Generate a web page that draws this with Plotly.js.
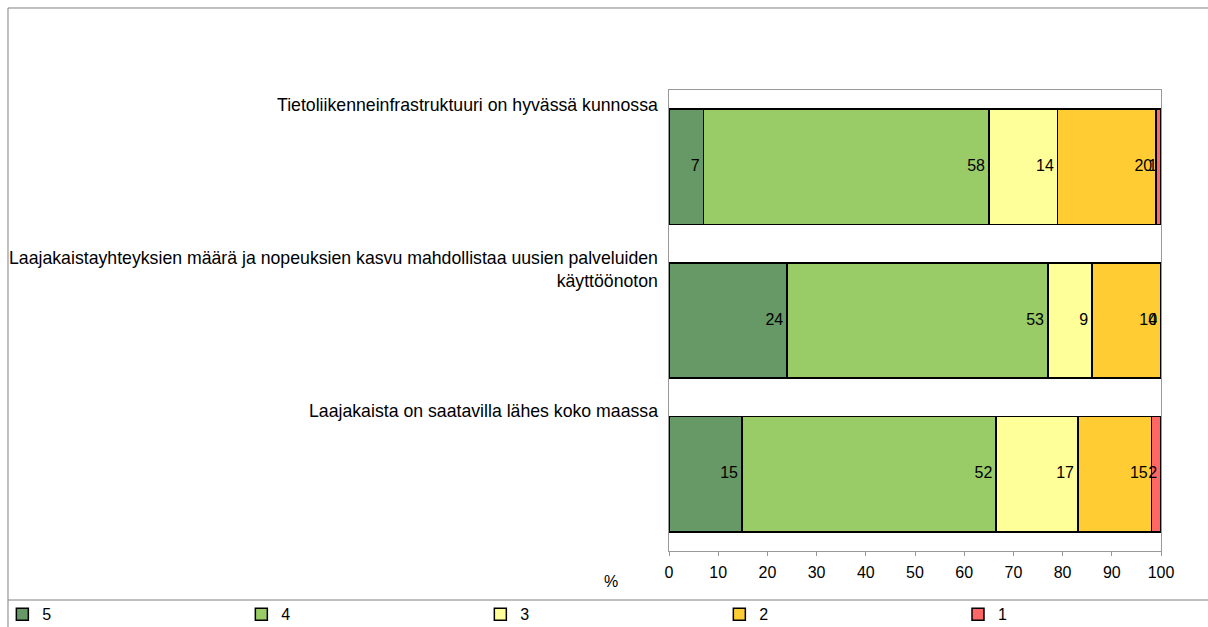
<!DOCTYPE html>
<html>
<head>
<meta charset="utf-8">
<script src="https://cdn.plot.ly/plotly-3.0.1.min.js"></script>
<style>
html,body{margin:0;padding:0;background:#fff;}
#chart{width:1208px;height:627px;}
</style>
</head>
<body>
<div id="chart"></div>
<script>
// ---- data ----
const categories = [
  "Tietoliikenneinfrastruktuuri on hyvässä kunnossa",
  "Laajakaistayhteyksien määrä ja nopeuksien kasvu mahdollistaa uusien palveluiden<br>käyttöönoton",
  "Laajakaista on saatavilla lähes koko maassa"
];
const seriesNames = ["5", "4", "3", "2", "1"];
const s5 = [7, 24, 14.8];
const s4 = [58, 53, 51.7];
const s3 = [14, 9, 16.6];
const s2 = [20, 14, 15.0];
const s1 = [1, 0, 1.9];
const xTicks = [0, 10, 20, 30, 40, 50, 60, 70, 80, 90, 100];
const axisTitle = "%";

// ---- styling ----
const colors = ["#669966", "#99CC66", "#FFFF99", "#FFCC33", "#FF6666"];
const FONT = "Liberation Sans, Arial, sans-serif";
const series = [s5, s4, s3, s2, s1];

const traces = [];
series.forEach((vals, i) => {
  traces.push({
    type: "bar",
    orientation: "h",
    name: seriesNames[i],
    y: categories,
    x: vals,
    legend: i < 4 ? "legend" : "legend2",
    marker: {color: colors[i], line: {color: "#000", width: 1.5}},
    hoverinfo: "skip"
  });
});

// value labels at the end of each segment (cumulative positions from data)
const cum = categories.map(() => 0);
series.forEach((vals, i) => {
  const xs = vals.map((v, k) => { cum[k] += v; return cum[k]; });
  traces.push({
    type: "scatter",
    mode: "markers+text",
    x: xs,
    y: categories,
    marker: {size: 4.6, opacity: 0},
    text: vals.map(v => Math.round(v).toString()),
    textposition: "middle left",
    textfont: {family: FONT, size: 16, color: "#000"},
    showlegend: false,
    hoverinfo: "skip",
    cliponaxis: false
  });
});

const catShift = [62, 51, 63];
const annotations = categories.map((c, i) => ({
  text: c, xref: "paper", x: 0, xanchor: "right", xshift: -9,
  yref: "y", y: c, yanchor: "middle", yshift: catShift[i],
  align: "right", showarrow: false,
  font: {family: FONT, size: 17.7, color: "#000"}
}));
annotations.push({
  text: axisTitle, xref: "paper", yref: "paper", x: -0.1179, y: -0.0651,
  xanchor: "center", yanchor: "middle", showarrow: false,
  font: {family: FONT, size: 16, color: "#000"}
});

const lineStyle = {color: "#808080", width: 1};
const shapes = [
  {type: "line", xref: "paper", yref: "paper", x0: -1.3435, x1: -1.3435, y0: 1.1779, y1: -0.17, line: lineStyle},
  {type: "line", xref: "paper", yref: "paper", x0: -1.3435, x1: 1.1, y0: 1.1779, y1: 1.1779, line: lineStyle},
  {type: "line", xref: "paper", yref: "paper", x0: -1.3435, x1: 1.1, y0: -0.1063, y1: -0.1063, line: lineStyle}
];

const legendBase = {
  orientation: "h", traceorder: "normal",
  xanchor: "left", y: -0.1005, yanchor: "top",
  entrywidth: 194, entrywidthmode: "pixels",
  font: {family: FONT, size: 16, color: "#000"},
  bgcolor: "rgba(0,0,0,0)"
};

const layout = {
  width: 1208, height: 627,
  margin: {l: 669, r: 47, t: 90, b: 76, autoexpand: false},
  paper_bgcolor: "#fff", plot_bgcolor: "#fff",
  barmode: "stack", bargap: 0.25,
  hovermode: false,
  font: {family: FONT, size: 16, color: "#000"},
  xaxis: {
    range: [0, 100], tickvals: xTicks, ticktext: xTicks.map(String),
    showgrid: false, zeroline: false,
    showline: true, mirror: true, linecolor: "#999", linewidth: 1,
    ticks: "outside", ticklen: 4, tickcolor: "#999",
    ticklabelstandoff: 3,
    tickfont: {family: FONT, size: 16, color: "#000"}
  },
  yaxis: {
    type: "category", autorange: "reversed",
    showticklabels: false, showgrid: false, zeroline: false,
    showline: true, mirror: true, linecolor: "#999", linewidth: 1, ticks: ""
  },
  showlegend: true,
  legend: Object.assign({}, legendBase, {x: -1.355}),
  legend2: Object.assign({}, legendBase, {x: 0.5874}),
  annotations: annotations,
  shapes: shapes
};

Plotly.newPlot("chart", traces, layout, {displayModeBar: false, staticPlot: true});
</script>
</body>
</html>
